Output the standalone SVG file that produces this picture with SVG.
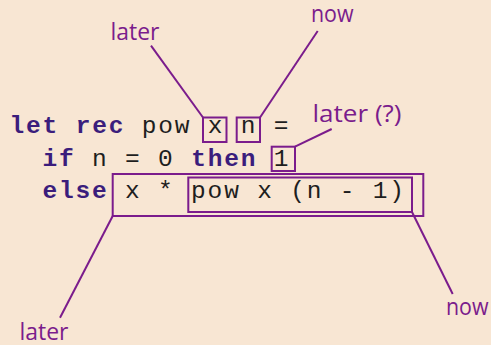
<svg xmlns="http://www.w3.org/2000/svg" width="491" height="345" viewBox="0 0 491 345">
<style>
.code{font-family:"Liberation Mono","DejaVu Sans Mono",monospace;font-size:24.5px;letter-spacing:1.8px;fill:#1e1e1e;white-space:pre}
.kw{font-weight:bold;fill:#3b1d7c}
.lbl{font-family:"Open Sans","Noto Sans",sans-serif;font-size:23.5px;fill:#7b1c8c}
.box{fill:none;stroke:#7b1c8c;stroke-width:2}
.conn{stroke:#7b1c8c;stroke-width:2;fill:none}
</style>
<rect width="491" height="345" fill="#f8e6d3"/>
<g id="code">
<text class="code" x="9.6" y="133"><tspan class="kw">let</tspan> <tspan class="kw">rec</tspan> pow x n =</text>
<text class="code" x="42.6" y="166"><tspan class="kw">if</tspan> n = 0 <tspan class="kw">then</tspan> 1</text>
<text class="code" x="42.6" y="198"><tspan class="kw">else</tspan> x * pow x (n - 1)</text>
</g>
<g id="box-x"><rect class="box" x="203" y="117.5" width="23.5" height="24.5"/></g>
<g id="box-n"><rect class="box" x="236.7" y="117.5" width="23.3" height="24.5"/></g>
<g id="box-1"><rect class="box" x="271.7" y="146.7" width="23.3" height="24.3"/></g>
<g id="box-outer"><rect class="box" x="112.7" y="174" width="310.6" height="42"/></g>
<g id="box-inner"><rect class="box" x="188.3" y="177.5" width="223.7" height="34.5"/></g>
<g id="label-later-top"><text class="lbl" x="110.5" y="40" textLength="49" lengthAdjust="spacingAndGlyphs">later</text></g>
<g id="label-now-top"><text class="lbl" x="311" y="22" textLength="42.5" lengthAdjust="spacingAndGlyphs">now</text></g>
<g id="label-later-q"><text class="lbl" x="312.5" y="121.7" textLength="89" lengthAdjust="spacingAndGlyphs">later (?)</text></g>
<g id="label-later-bottom"><text class="lbl" x="19.5" y="340" textLength="49" lengthAdjust="spacingAndGlyphs">later</text></g>
<g id="label-now-bottom"><text class="lbl" x="446" y="315" textLength="42.5" lengthAdjust="spacingAndGlyphs">now</text></g>
<g id="connectors">
<line class="conn" x1="151" y1="45.7" x2="203" y2="117.5"/>
<line class="conn" x1="317.7" y1="31" x2="260" y2="117.5"/>
<line class="conn" x1="331.7" y1="129" x2="295" y2="146.7"/>
<line class="conn" x1="112.7" y1="216" x2="60" y2="317.7"/>
<line class="conn" x1="412" y1="212" x2="452.7" y2="294"/>
</g>
</svg>
